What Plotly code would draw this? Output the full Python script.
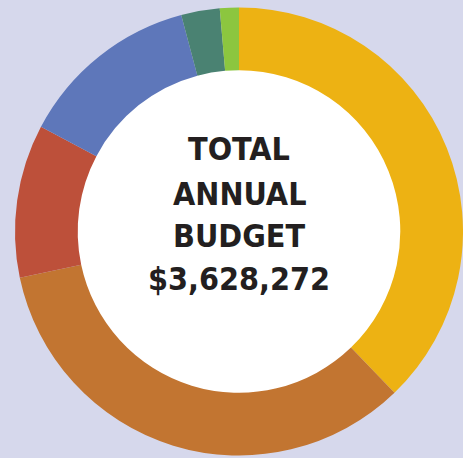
import plotly.graph_objects as go

# Budget breakdown (USD), listed clockwise from 12 o'clock
categories = ["Category A", "Category B", "Category C", "Category D", "Category E", "Category F"]
amounts = [1371100, 1230200, 400600, 475700, 100900, 49772]
colors = ["#edb213", "#c27531", "#bd503a", "#5e77ba", "#4a8272", "#8cc63f"]

title_lines = ["TOTAL", "ANNUAL", "BUDGET"]
total = sum(amounts)
total_label = "${:,}".format(total)

W, H = 463, 458
BG = "#d6d8ec"
HOLE = 0.72

# ring geometry in pixels (pie domain below)
dom_x = [15 / W, 1.0]
dom_y = [2.5 / H, 450.5 / H]
cx = (dom_x[0] + dom_x[1]) / 2 * W
cy = (dom_y[0] + dom_y[1]) / 2 * H          # measured from bottom
r_out = min((dom_x[1] - dom_x[0]) * W, (dom_y[1] - dom_y[0]) * H) / 2
r_in = r_out * HOLE + 1

fig = go.Figure(
    go.Pie(
        labels=categories,
        values=amounts,
        marker=dict(colors=colors, line=dict(width=0)),
        hole=HOLE,
        sort=False,
        direction="clockwise",
        rotation=0,
        textinfo="none",
        hoverinfo="skip",
        showlegend=False,
        domain=dict(x=dom_x, y=dom_y),
    )
)

# white disc filling the centre of the ring
fig.add_shape(
    type="circle",
    xref="paper", yref="paper",
    x0=(cx - r_in) / W, x1=(cx + r_in) / W,
    y0=(cy - r_in) / H, y1=(cy + r_in) / H,
    fillcolor="white", line=dict(width=0), layer="below",
)

# centre caption, one annotation per line
line_y = [148.5, 193.5, 236.5, 278.5]
for txt, yp in zip(title_lines + [total_label], line_y):
    fig.add_annotation(
        text=txt,
        x=239 / W,
        y=1 - yp / H,
        xref="paper",
        yref="paper",
        xanchor="center",
        yanchor="middle",
        showarrow=False,
        font=dict(family="Liberation Sans Narrow, DejaVu Sans Condensed, sans-serif",
                  size=32, color="#231f20", weight="bold"),
    )

fig.update_layout(
    width=W,
    height=H,
    margin=dict(l=0, r=0, t=0, b=0),
    paper_bgcolor=BG,
    plot_bgcolor=BG,
)

fig.write_html("out.html")
